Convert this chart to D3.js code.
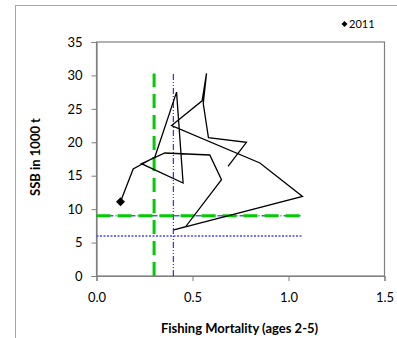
<!DOCTYPE html>
<html>
<head>
<meta charset="utf-8">
<script src="https://cdn.jsdelivr.net/npm/d3@7"></script>
<style>
  body { margin: 0; background: #fff; }
  svg { display: block; font-family: Lato, 'Open Sans', sans-serif; }
</style>
</head>
<body>
<div id="chart"></div>
<script>
const WIDTH = 397;
const HEIGHT = 338;

// fishing mortality / SSB trajectory, last point is 2011
const fishingMortality = [0.685, 0.781, 0.583, 0.556, 0.573, 0.550, 0.391, 0.851, 1.073, 0.403,
  0.465, 0.651, 0.590, 0.356, 0.234, 0.451, 0.417, 0.304, 0.191, 0.125];
const ssb = [16.4, 20.0, 20.7, 25.8, 30.3, 26.2, 22.5, 16.9, 11.9, 6.9,
  7.4, 14.4, 18.1, 18.4, 16.8, 13.9, 27.5, 17.8, 16.0, 11.1];
const lastYear = '2011';

// reference points
const fMsy = 0.3;
const fPa = 0.4;
const bTrigger = 9;
const bPa = 9;
const bLim = 6;

const xTicks = [0, 0.5, 1.0, 1.5];
const yTicks = [0, 5, 10, 15, 20, 25, 30, 35];

const margin = { top: 42, right: 12.5, bottom: 62, left: 96.5 };

const data = fishingMortality.map((f, i) => ({ f: f, s: ssb[i] }));
const maxF = d3.max(fishingMortality);
const maxS = d3.max(ssb);

const svg = d3
  .select('#chart')
  .append('svg')
  .attr('width', WIDTH)
  .attr('height', HEIGHT);

// outer chart frame
svg
  .append('rect')
  .attr('x', 15.5)
  .attr('y', 5.5)
  .attr('width', 420)
  .attr('height', 400)
  .attr('fill', 'none')
  .attr('stroke', '#a6a6a6')
  .attr('stroke-width', 1);

const x = d3.scaleLinear().domain([0, 1.5]).range([margin.left, WIDTH - margin.right]);
const y = d3.scaleLinear().domain([0, 35]).range([HEIGHT - margin.bottom, margin.top]);

// plot area box
svg
  .append('rect')
  .attr('x', x(0))
  .attr('y', y(35))
  .attr('width', x(1.5) - x(0))
  .attr('height', y(0) - y(35))
  .attr('fill', 'none')
  .attr('stroke', '#7f7f7f')
  .attr('stroke-width', 1.2);

const xAxis = svg
  .append('g')
  .attr('transform', `translate(0, ${y(0)})`)
  .call(d3.axisBottom(x).tickValues(xTicks).tickFormat(d3.format('.1f')).tickSize(5).tickPadding(12));
const yAxis = svg
  .append('g')
  .attr('transform', `translate(${x(0)}, 0)`)
  .call(d3.axisLeft(y).tickValues(yTicks).tickSize(5).tickPadding(9));

[xAxis, yAxis].forEach((g) => {
  g.select('.domain').attr('stroke', '#7f7f7f').attr('stroke-width', 1.2);
  g.selectAll('.tick line').attr('stroke', '#7f7f7f');
  g.selectAll('.tick text')
    .attr('fill', '#000')
    .style('font-size', '13px')
    .style('font-family', "Lato, 'Open Sans', sans-serif");
});

// reference lines
const refs = svg.append('g');
refs
  .append('line')
  .attr('x1', x(0)).attr('x2', x(maxF))
  .attr('y1', y(bLim)).attr('y2', y(bLim))
  .attr('stroke', '#4646ff')
  .attr('stroke-width', 1.5)
  .attr('stroke-dasharray', '2,1.5');
refs
  .append('line')
  .attr('x1', x(0)).attr('x2', x(maxF))
  .attr('y1', y(bPa)).attr('y2', y(bPa))
  .attr('stroke', '#0000ff')
  .attr('stroke-width', 1)
  .attr('stroke-dasharray', '6,2,1,2');
refs
  .append('line')
  .attr('x1', x(fPa)).attr('x2', x(fPa))
  .attr('y1', y(0)).attr('y2', y(maxS))
  .attr('stroke', '#0000ff')
  .attr('stroke-width', 1)
  .attr('stroke-dasharray', '6,2,1,2,1,2');
refs
  .append('line')
  .attr('x1', x(0)).attr('x2', x(maxF))
  .attr('y1', y(bTrigger)).attr('y2', y(bTrigger))
  .attr('stroke', '#00cc00')
  .attr('stroke-width', 3)
  .attr('stroke-dasharray', '14,7');
refs
  .append('line')
  .attr('x1', x(fMsy)).attr('x2', x(fMsy))
  .attr('y1', y(0)).attr('y2', y(maxS))
  .attr('stroke', '#00cc00')
  .attr('stroke-width', 3)
  .attr('stroke-dasharray', '14,7');

// stock trajectory
svg
  .append('path')
  .datum(data)
  .attr('fill', 'none')
  .attr('stroke', '#000')
  .attr('stroke-width', 1.3)
  .attr('stroke-linejoin', 'miter')
  .attr(
    'd',
    d3.line().x((d) => x(d.f)).y((d) => y(d.s))
  );

// diamond = square turned 45 degrees
const diamond = d3.symbol().type(d3.symbolSquare).size(40);
const last = data[data.length - 1];
svg
  .append('path')
  .attr('d', diamond)
  .attr('transform', `translate(${x(last.f)}, ${y(last.s)}) rotate(45)`)
  .attr('fill', '#000');

// legend
svg
  .append('path')
  .attr('d', d3.symbol().type(d3.symbolSquare).size(18))
  .attr('transform', 'translate(344.5, 24) rotate(45)')
  .attr('fill', '#000');
svg
  .append('text')
  .attr('x', 349)
  .attr('y', 28)
  .style('font-size', '11px')
  .text(lastYear);

// axis titles
svg
  .append('text')
  .attr('x', (x(0) + x(1.5)) / 2 - 1)
  .attr('y', 333)
  .attr('text-anchor', 'middle')
  .style('font-size', '13px')
  .style('font-weight', 'bold')
  .text('Fishing Mortality (ages 2-5)');
svg
  .append('text')
  .attr('transform', 'translate(40, 157) rotate(-90)')
  .attr('text-anchor', 'middle')
  .style('font-size', '13px')
  .style('font-weight', 'bold')
  .text('SSB in 1000 t');
</script>
</body>
</html>
